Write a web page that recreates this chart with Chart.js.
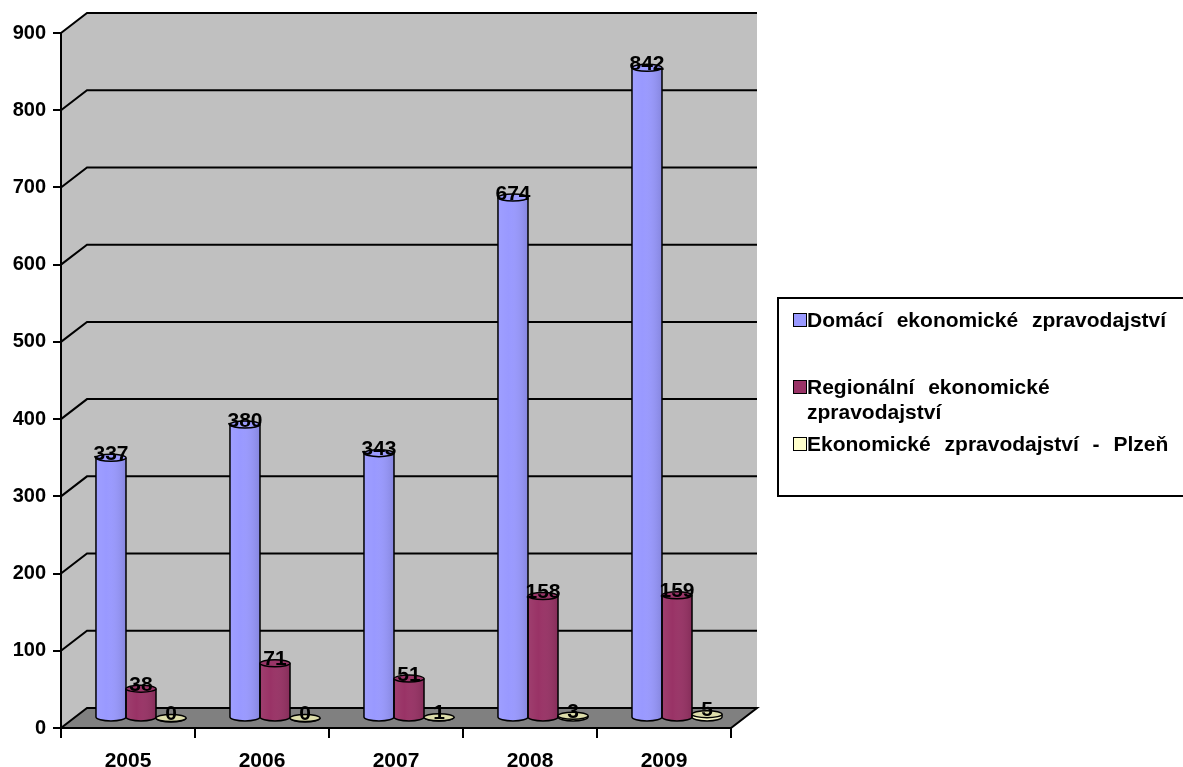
<!DOCTYPE html>
<html lang="cs">
<head>
<meta charset="UTF-8">
<title>Ekonomické zpravodajství 2005–2009</title>
<script src="https://cdn.jsdelivr.net/npm/chart.js"></script>
<style>
  body { margin: 0; background: #fff; overflow: hidden; font-family: Arial, "Liberation Sans", sans-serif; }
  #wrap { position: relative; width: 1183px; height: 767px; }
  #legenda { position: absolute; left: 777px; top: 297px; width: 440px; height: 200px; border: 2px solid #000; box-sizing: border-box; }
  .polozka { position: absolute; left: 28px; width: 380px; font-weight: bold; font-size: 21px; line-height: 25px; word-spacing: 8px; color: #000; }
  .ctverec { position: absolute; left: 14px; width: 12px; height: 12px; border: 1px solid #000; }
</style>
</head>
<body>
<div id="wrap">
  <canvas id="graf" width="1183" height="767"></canvas>
  <div id="legenda"></div>
</div>
<script>
  const roky = ["2005", "2006", "2007", "2008", "2009"];
  const domaci = [337, 380, 343, 674, 842];
  const regionalni = [38, 71, 51, 158, 159];
  const plzen = [0, 0, 1, 3, 5];
  const nazvy = ["Domácí ekonomické zpravodajství", "Regionální ekonomické zpravodajství", "Ekonomické zpravodajství - Plzeň"];
  const barvy = ["#9999FF", "#993366", "#FFFFCC"];
  const barvyPodstav = ["#9C9CFF", "#9A3568", "#DDDDAA"];
  const osaMax = 900;
  const osaKrok = 100;

  // hloubka prostorového grafu (zadní stěna), sloupce stojí v polovině
  const hloubkaX = 26, hloubkaY = -20;

  const steny = {
    id: "steny",
    beforeDraw(chart) {
      const { ctx, chartArea: a, scales: { y } } = chart;
      const top = y.getPixelForValue(osaMax);
      ctx.save();
      ctx.fillStyle = "#C0C0C0";
      ctx.beginPath();
      ctx.moveTo(a.left, top);
      ctx.lineTo(a.left + hloubkaX, top + hloubkaY);
      ctx.lineTo(a.right + hloubkaX, top + hloubkaY);
      ctx.lineTo(a.right + hloubkaX, a.bottom + hloubkaY);
      ctx.lineTo(a.left, a.bottom);
      ctx.closePath();
      ctx.fill();

      // podlaha
      ctx.fillStyle = "#808080";
      ctx.strokeStyle = "#000";
      ctx.lineWidth = 2;
      ctx.beginPath();
      ctx.moveTo(a.left, a.bottom);
      ctx.lineTo(a.right, a.bottom);
      ctx.lineTo(a.right + hloubkaX, a.bottom + hloubkaY);
      ctx.lineTo(a.left + hloubkaX, a.bottom + hloubkaY);
      ctx.closePath();
      ctx.fill();
      ctx.stroke();

      // mřížka na boční a zadní stěně
      y.ticks.forEach(t => {
        if (t.value === 0) return;
        const py = y.getPixelForValue(t.value);
        ctx.beginPath();
        ctx.moveTo(a.left, py);
        ctx.lineTo(a.left + hloubkaX, py + hloubkaY);
        ctx.lineTo(a.right + hloubkaX, py + hloubkaY);
        ctx.stroke();
      });
      ctx.restore();
    }
  };

  const valce = {
    id: "valce",
    beforeDatasetsDraw(chart) {
      chart.ctx.save();
      chart.ctx.translate(hloubkaX / 2, hloubkaY / 2);
    },
    afterDatasetsDraw(chart) {
      const ctx = chart.ctx;
      const ry = 3.5;
      ctx.strokeStyle = "#000";
      ctx.lineWidth = 1.5;
      chart.data.datasets.forEach((ds, i) => {
        chart.getDatasetMeta(i).data.forEach(bar => {
          const { x, y, base, width } = bar.getProps(["x", "y", "base", "width"], true);
          const l = x - width / 2, r = x + width / 2, rx = width / 2;
          const stin = ctx.createLinearGradient(l, 0, r, 0);
          stin.addColorStop(0, "rgba(255,255,255,0.06)");
          stin.addColorStop(0.35, "rgba(255,255,255,0)");
          stin.addColorStop(1, "rgba(0,0,0,0.13)");
          ctx.fillStyle = stin;
          ctx.fillRect(l, y, width, base - y);

          // spodní oblouk
          ctx.beginPath();
          ctx.ellipse(x, base, rx, ry + 0.5, 0, 0, Math.PI);
          ctx.fillStyle = ds.backgroundColor;
          ctx.fill();
          ctx.fillStyle = stin;
          ctx.fill();
          ctx.stroke();

          ctx.beginPath();
          ctx.moveTo(l, y);
          ctx.lineTo(l, base);
          ctx.moveTo(r, y);
          ctx.lineTo(r, base);
          ctx.stroke();

          // horní podstava
          ctx.beginPath();
          ctx.ellipse(x, y, rx, ry, 0, 0, Math.PI * 2);
          ctx.fillStyle = barvyPodstav[i];
          ctx.fill();
          ctx.stroke();
        });
      });

      // popisky hodnot
      ctx.fillStyle = "#000";
      ctx.font = "bold 21px Arial, 'Liberation Sans', sans-serif";
      ctx.textAlign = "center";
      ctx.textBaseline = "alphabetic";
      chart.data.datasets.forEach((ds, i) => {
        chart.getDatasetMeta(i).data.forEach((bar, j) => {
          ctx.fillText(String(ds.data[j]), bar.x, bar.y + 2);
        });
      });
      ctx.restore();
    }
  };

  const graf = new Chart(document.getElementById("graf"), {
    type: "bar",
    data: {
      labels: roky,
      datasets: [domaci, regionalni, plzen].map((d, i) => ({
        label: nazvy[i],
        data: d,
        backgroundColor: barvy[i],
        borderWidth: 0,
        categoryPercentage: 0.672,
        barPercentage: 1,
        clip: false
      }))
    },
    options: {
      responsive: false,
      animation: false,
      layout: { padding: { top: 33, right: 452, left: 0, bottom: 0 } },
      plugins: { legend: { display: false }, tooltip: { enabled: false } },
      scales: {
        x: {
          afterFit: s => { s.height = 39; },
          grid: { drawOnChartArea: false, tickLength: 10, color: "#000", lineWidth: 2, offset: true },
          border: { color: "#000", width: 2 },
          ticks: { color: "#000", font: { family: "Arial, 'Liberation Sans', sans-serif", size: 21, weight: "bold" }, padding: 11, maxRotation: 0 }
        },
        y: {
          min: 0,
          max: osaMax,
          afterFit: s => { s.width = 61; },
          grid: { drawOnChartArea: false, tickLength: 8, color: "#000", lineWidth: 2 },
          border: { color: "#000", width: 2 },
          ticks: { stepSize: osaKrok, color: "#000", font: { family: "Arial, 'Liberation Sans', sans-serif", size: 20, weight: "bold" }, padding: 7 }
        }
      }
    },
    plugins: [steny, valce]
  });

  // legenda vpravo
  const legendaTop = [8, 75, 132];
  const legenda = document.getElementById("legenda");
  graf.data.datasets.forEach((ds, i) => {
    const sq = document.createElement("div");
    sq.className = "ctverec";
    sq.style.top = (legendaTop[i] + 6) + "px";
    sq.style.background = ds.backgroundColor;
    const txt = document.createElement("div");
    txt.className = "polozka";
    txt.style.top = legendaTop[i] + "px";
    txt.textContent = ds.label;
    legenda.appendChild(sq);
    legenda.appendChild(txt);
  });
</script>
</body>
</html>
